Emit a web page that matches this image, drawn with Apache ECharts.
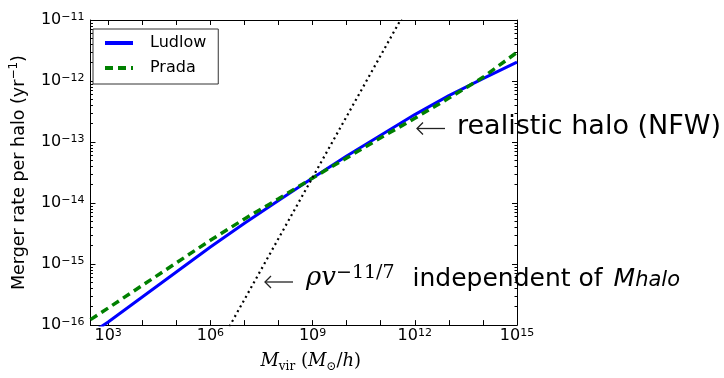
<!DOCTYPE html>
<html>
<head>
<meta charset="utf-8">
<script src="https://cdn.jsdelivr.net/npm/echarts@6/dist/echarts.min.js"></script>
<style>
html, body { margin: 0; padding: 0; background: #fff; }
#chart { width: 724px; height: 378px; }
</style>
</head>
<body>
<div id="chart"></div>
<script>
// every number is log10 of the real quantity (log-log plot)
var massExp   = [2.48, 3, 4, 5, 6, 7, 8, 9, 10, 11, 12, 13, 14, 15];
var ludlowExp = [-16.14, -15.95, -15.54, -15.13, -14.72, -14.33, -13.96, -13.59, -13.23, -12.89, -12.55, -12.24, -11.96, -11.69];
var pradaExp  = [-15.91, -15.72, -15.35, -14.98, -14.61, -14.26, -13.93, -13.59, -13.26, -12.93, -12.61, -12.28, -11.94, -11.53];
// rho v^(-11/7) reference line
var powerMassExp = [6.4, 11.7];
var powerRateExp = [-16.18, -10.88];

var xLabelExp  = [3, 6, 9, 12, 15];
var xDecadeExp = [3, 4, 5, 6, 7, 8, 9, 10, 11, 12, 13, 14, 15];
var yLabelExp  = [-16, -15, -14, -13, -12, -11];

var yMinorExp = [];
for (var n = -16; n < -11; n++) {
    for (var k = 2; k <= 9; k++) yMinorExp.push(n + Math.log10(k));
}

function zip(xs, ys) {
    return xs.map(function (x, i) { return [x, ys[i]]; });
}

function powLabel(v) {
    var e = Math.round(v);
    return '{b|10}{s|' + (e < 0 ? '\u2212' + (-e) : e) + '}';
}

// thin open arrow pointing left, drawn as graphic
function leftArrow(x0, x1, y) {
    return {
        type: 'group',
        children: [{
            type: 'line',
            shape: { x1: x0, y1: y, x2: x1, y2: y },
            style: { stroke: '#222', lineWidth: 1.3 }
        }, {
            type: 'polyline',
            shape: { points: [[x0 + 6, y - 6], [x0, y], [x0 + 6, y + 6]] },
            style: { stroke: '#222', lineWidth: 1.3, fill: null }
        }]
    };
}

var labelRich = {
    b: { fontSize: 16, fontFamily: 'DejaVu Sans', color: '#000', lineHeight: 16, verticalAlign: 'bottom' },
    s: { fontSize: 11, fontFamily: 'DejaVu Sans', color: '#000', lineHeight: 11, verticalAlign: 'top', padding: [0, 0, 8, 0] }
};

var frameLine = { show: true, lineStyle: { color: '#000', width: 1 } };

var chart = echarts.init(document.getElementById('chart'));

chart.setOption({
    animation: false,
    backgroundColor: '#fff',
    grid: { left: 85, right: 207, top: 20, bottom: 46, containLabel: false },
    legend: {
        data: ['Ludlow', 'Prada'],
        orient: 'vertical',
        left: 93, top: 29,
        itemWidth: 28, itemHeight: 14, itemGap: 9,
        padding: [6, 12, 8, 10],
        borderColor: '#333', borderWidth: 1,
        backgroundColor: '#fff',
        itemStyle: { color: 'transparent', borderColor: 'transparent', borderWidth: 0 },
        lineStyle: { width: 4 },
        textStyle: { fontFamily: 'DejaVu Sans', fontSize: 16, color: '#000', padding: [0, 0, 0, 12] }
    },
    xAxis: [{
        type: 'value', position: 'bottom', min: 2.48, max: 15,
        axisLine: frameLine,
        axisTick: { inside: true, length: 5, customValues: xDecadeExp, lineStyle: { color: '#000' } },
        axisLabel: { customValues: xLabelExp, formatter: powLabel, margin: 3, rich: labelRich },
        splitLine: { show: false },
        name: '{it|M}{sub|vir}{rm| (}{it|M}{sub|\u2299}{rm|/}{it|h}{rm|)}',
        nameLocation: 'middle', nameGap: 18,
        nameTextStyle: {
            padding: [0, 0, 0, 14],
            rich: {
                it: { fontFamily: 'DejaVu Serif', fontStyle: 'italic', fontSize: 18, lineHeight: 19, verticalAlign: 'top', color: '#000' },
                rm: { fontFamily: 'DejaVu Serif', fontSize: 18, lineHeight: 19, verticalAlign: 'top', color: '#000' },
                sub: { fontFamily: 'DejaVu Serif', fontSize: 12, lineHeight: 12, verticalAlign: 'top', padding: [9, 0, 0, 0], color: '#000' }
            }
        }
    }, {
        type: 'value', position: 'top', min: 2.48, max: 15,
        axisLine: frameLine,
        axisTick: { inside: true, length: 5, customValues: xDecadeExp, lineStyle: { color: '#000' } },
        axisLabel: { show: false },
        splitLine: { show: false }
    }],
    yAxis: [{
        type: 'value', position: 'left', min: -16, max: -11,
        axisLine: frameLine,
        axisTick: { inside: true, length: 5, customValues: yLabelExp, lineStyle: { color: '#000' } },
        axisLabel: { customValues: yLabelExp, formatter: powLabel, margin: 6, rich: labelRich },
        splitLine: { show: false },
        name: '{t|Merger rate per halo (yr}{s|\u22121}{t|)}',
        nameLocation: 'middle', nameRotate: 90, nameGap: 55,
        nameTextStyle: {
            rich: {
                t: { fontFamily: 'DejaVu Sans', fontSize: 17.5, lineHeight: 20, verticalAlign: 'bottom', color: '#000' },
                s: { fontFamily: 'DejaVu Sans', fontSize: 12, lineHeight: 12, verticalAlign: 'top', padding: [0, 0, 10, 0], color: '#000' }
            }
        }
    }, {
        type: 'value', position: 'left', min: -16, max: -11,
        axisLine: { show: false },
        axisTick: { inside: true, length: 2.5, customValues: yMinorExp, lineStyle: { color: '#000' } },
        axisLabel: { show: false },
        splitLine: { show: false }
    }, {
        type: 'value', position: 'right', min: -16, max: -11,
        axisLine: frameLine,
        axisTick: { inside: true, length: 5, customValues: yLabelExp, lineStyle: { color: '#000' } },
        axisLabel: { show: false },
        splitLine: { show: false }
    }, {
        type: 'value', position: 'right', min: -16, max: -11,
        axisLine: { show: false },
        axisTick: { inside: true, length: 2.5, customValues: yMinorExp, lineStyle: { color: '#000' } },
        axisLabel: { show: false },
        splitLine: { show: false }
    }],
    series: [{
        name: 'Ludlow', type: 'line', xAxisIndex: 0, yAxisIndex: 0,
        data: zip(massExp, ludlowExp),
        symbol: 'none', showSymbol: false,
        lineStyle: { color: '#0000ff', width: 3 },
        itemStyle: { color: '#0000ff' },
        z: 3
    }, {
        name: 'Prada', type: 'line', xAxisIndex: 0, yAxisIndex: 0,
        data: zip(massExp, pradaExp),
        symbol: 'none', showSymbol: false,
        lineStyle: { color: '#008000', width: 3.5, type: [8, 5] },
        itemStyle: { color: '#008000' },
        z: 4
    }, {
        name: 'powerlaw', type: 'line', xAxisIndex: 0, yAxisIndex: 0,
        data: zip(powerMassExp, powerRateExp),
        symbol: 'none', showSymbol: false,
        lineStyle: { color: '#000', width: 2.2, type: [2, 3.5] },
        z: 5
    }],
    graphic: [
        leftArrow(417, 445, 128.5),
        {
            type: 'text', x: 457, y: 127,
            style: {
                text: 'realistic halo (NFW)',
                fontFamily: 'DejaVu Sans', fontSize: 27, fill: '#000',
                align: 'left', verticalAlign: 'middle'
            }
        },
        leftArrow(265, 293, 282),
        {
            type: 'text', x: 306, y: 277.5,
            style: {
                text: '{r|\u03c1v}{s|\u221211/7}{t|independent of }{m|M}{ms|halo}',
                align: 'left', verticalAlign: 'middle',
                rich: {
                    r: { fontFamily: 'DejaVu Serif', fontStyle: 'italic', fontSize: 26, lineHeight: 28, verticalAlign: 'bottom', fill: '#000' },
                    s: { fontFamily: 'DejaVu Serif', fontSize: 19, lineHeight: 19, verticalAlign: 'top', padding: [0, 0, 16, 0], fill: '#000' },
                    t: { fontFamily: 'DejaVu Sans', fontSize: 25, lineHeight: 28, verticalAlign: 'bottom', padding: [0, 0, 0, 18], fill: '#000' },
                    m: { fontFamily: 'DejaVu Sans', fontStyle: 'italic', fontSize: 25, lineHeight: 28, verticalAlign: 'bottom', padding: [0, 0, 0, 3], fill: '#000' },
                    ms: { fontFamily: 'DejaVu Sans', fontStyle: 'italic', fontSize: 21, lineHeight: 21, verticalAlign: 'bottom', fill: '#000' }
                }
            }
        }
    ]
});
</script>
</body>
</html>
